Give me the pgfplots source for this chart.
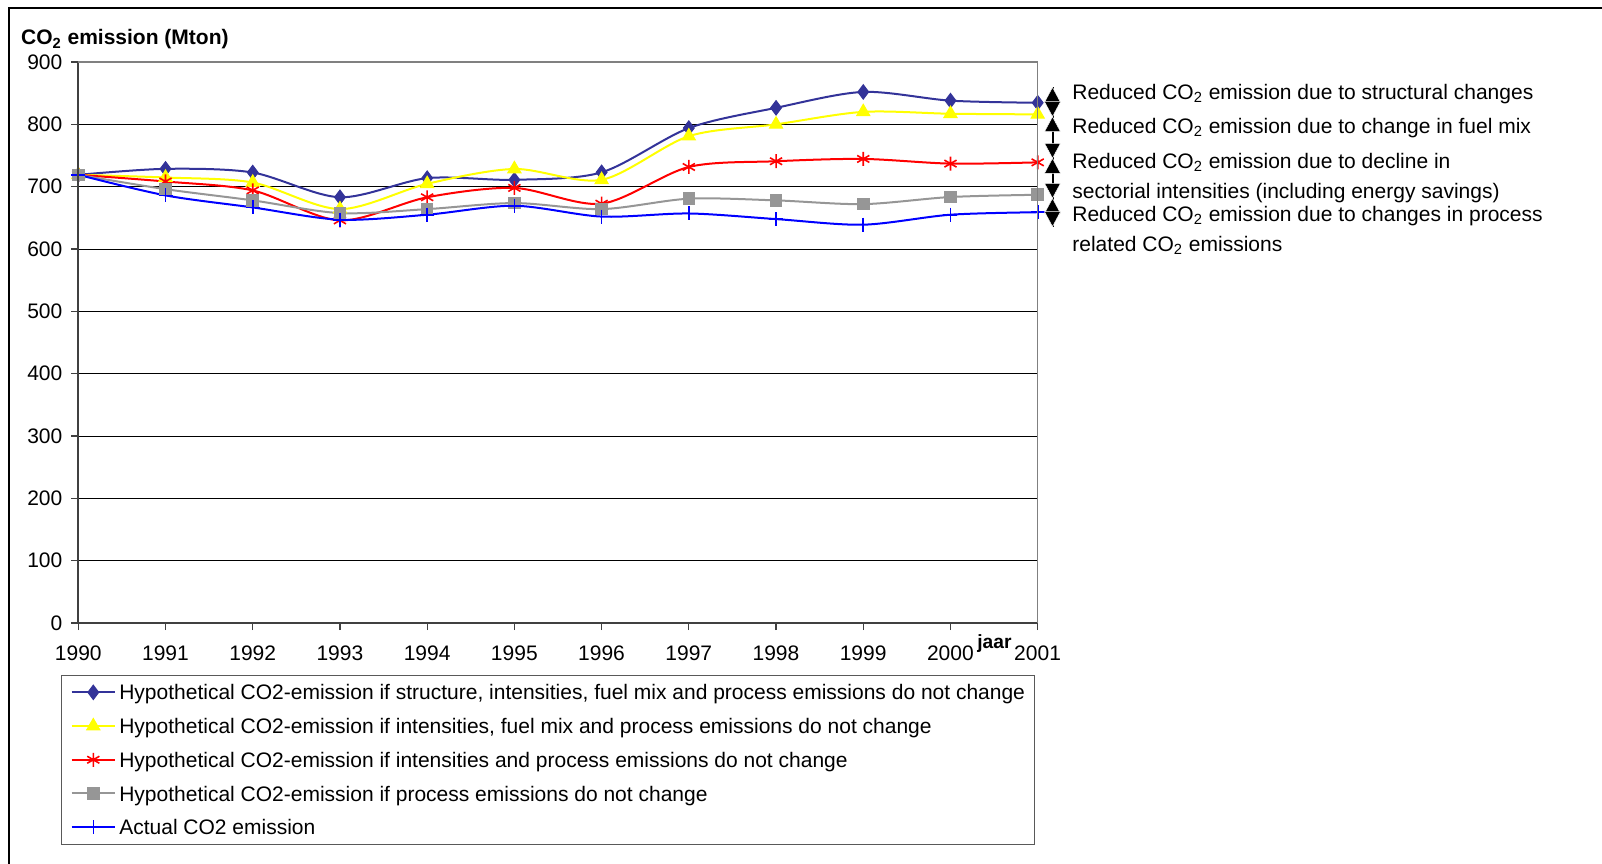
\documentclass[border=0pt]{standalone}
\usepackage{fontspec}
\setmainfont{Liberation Sans}
\usepackage{pgfplots}
\pgfplotsset{compat=1.18}
\usepackage{pgfplotstable}
\usetikzlibrary{arrows.meta}

\definecolor{cNavy}{HTML}{333399}
\definecolor{cYel}{HTML}{FFFF00}
\definecolor{cRed}{HTML}{FF0000}
\definecolor{cGray}{HTML}{969696}
\definecolor{cBlue}{HTML}{0000FF}

\pgfplotstableread{
year a     b     c     d     e
1990 719   719   719   719   719
1991 728.6 714.7 708.3 696   686
1992 722.7 706.7 694   678   666.7
1993 683   664   645.9 657.6 647
1994 713.7 704.6 683   664   655
1995 711   728.4 698   673.7 669.4
1996 723   711   672.7 664   652
1997 794   781   731.6 680.7 657
1998 826.5 800   740.8 678   648
1999 852   820   744.5 672   639
2000 838   817   737   683.4 655
2001 834.6 816   739   687   659
}\data

\newcommand\fs{\fontsize{10.5}{12.6}\selectfont}

\begin{document}
\begin{tikzpicture}
\begin{axis}[
  at={(39.15pt,120pt)}, anchor=south west,
  scale only axis, width=479.7pt, height=280.5pt,
  xmin=1990, xmax=2001, ymin=0, ymax=900,
  xtick={1990,...,2001}, ytick={0,100,...,900},
  axis line style={draw=none},
  ymajorgrids, grid style={black, line width=0.5pt},
  tick align=outside, tick pos=left,
  major tick length=3.6pt,
  tick style={black!75, line width=0.6pt},
  ticklabel style={font=\fs},
  /pgf/number format/assume math mode=true,
  /pgf/number format/1000 sep={},
  xticklabel style={anchor=center, inner sep=0pt, yshift=-11.6pt},
  yticklabel style={anchor=east, inner sep=0pt, xshift=-4.2pt},
  clip=false,
  legend cell align=left,
  legend style={at={(-0.01834,-0.09269)}, anchor=north west,
    draw=black!65, line width=0.5pt, font=\fs,
    inner xsep=4.7pt, inner ysep=0pt, row sep=0pt, column sep=1.65pt,
    nodes={inner xsep=0pt, inner ysep=0pt, text height=12.2pt, text depth=4.65pt, anchor=west}},
  legend image code/.code={\draw[#1, mark repeat=2, mark phase=2] plot coordinates {(0pt,0pt)(10.85pt,0pt)(21.7pt,0pt)};},
]
\addplot[cNavy, line width=1pt, smooth, tension=0.5, mark=diamond*, mark size=3.6pt, mark options={solid, fill=cNavy, line width=0.5pt}] table[x=year,y=a]{\data};
\addlegendentry{Hypothetical CO2-emission if structure, intensities, fuel mix and process emissions do not change}
\addplot[cYel, line width=1pt, smooth, tension=0.5, mark=triangle*, mark size=3.8pt, mark options={solid, fill=cYel, line width=0.5pt}] table[x=year,y=b]{\data};
\addlegendentry{Hypothetical CO2-emission if intensities, fuel mix and process emissions do not change}
\addplot[cRed, line width=1pt, smooth, tension=0.5, mark=asterisk, mark size=3.5pt, mark options={solid, line width=0.8pt}] table[x=year,y=c]{\data};
\addlegendentry{Hypothetical CO2-emission if intensities and process emissions do not change}
\addplot[cGray, line width=1pt, smooth, tension=0.5, mark=square*, mark size=2.9pt, mark options={solid, fill=cGray, line width=0.5pt}] table[x=year,y=d]{\data};
\addlegendentry{Hypothetical CO2-emission if process emissions do not change}
\addplot[cBlue, line width=1pt, smooth, tension=0.5, mark=+, mark size=3.5pt, mark options={solid, line width=0.8pt}] table[x=year,y=e]{\data};
\addlegendentry{Actual CO2 emission}
\end{axis}

\begin{scope}[x=0.5pt, y=-0.5pt, shift={(0pt,431.5pt)}]
  % outer frame
  \draw[line width=1pt] (9.3,880) -- (9.3,8.3) -- (1620,8.3);
  % axis borders
  \draw[black!75, line width=0.9pt] (78.3,62) -- (78.3,623) -- (1037.7,623);
  \draw[black!50, line width=0.6pt] (78.3,62) -- (1037.7,62) -- (1037.7,623);
  % titles
  \node[anchor=base west, inner sep=0pt, font=\fs\bfseries] at (20.7,45) {CO\textsubscript{2} emission (Mton)};
  \node[anchor=base west, inner sep=0pt, font=\fontsize{9.6}{11}\selectfont\bfseries] at (977,649) {jaar};
  % right annotations
  \node[anchor=base west, inner sep=0pt, font=\fs] at (1072,99.3) {Reduced CO\textsubscript{2} emission due to structural changes};
  \node[anchor=base west, inner sep=0pt, font=\fs] at (1072,133.3) {Reduced CO\textsubscript{2} emission due to change in fuel mix};
  \node[anchor=base west, inner sep=0pt, font=\fs] at (1072,168.3) {Reduced CO\textsubscript{2} emission due to decline in};
  \node[anchor=base west, inner sep=0pt, font=\fs] at (1072,198.3) {sectorial intensities (including energy savings)};
  \node[anchor=base west, inner sep=0pt, font=\fs] at (1072,221.7) {Reduced CO\textsubscript{2} emission due to changes in process};
  \node[anchor=base west, inner sep=0pt, font=\fs] at (1072,251.7) {related CO\textsubscript{2} emissions};
  % double arrows
  \def\ax{1052.5}
  \foreach \t/\b in {87.3/116.7, 116.7/158.3, 158.3/198.3, 198.3/226.7}{
    \draw[black, line width=1pt] (\ax,\t) -- (\ax,\b);
    \filldraw[black, draw=white, line width=0.25pt] (\ax,\t) -- (\ax-8,\t+15) -- (\ax+8,\t+15) -- cycle;
    \filldraw[black, draw=white, line width=0.25pt] (\ax,\b) -- (\ax-8,\b-15) -- (\ax+8,\b-15) -- cycle;
  }
\end{scope}
\pgfresetboundingbox
\path (0pt,0pt) rectangle (801pt,431.5pt);
\end{tikzpicture}
\end{document}
